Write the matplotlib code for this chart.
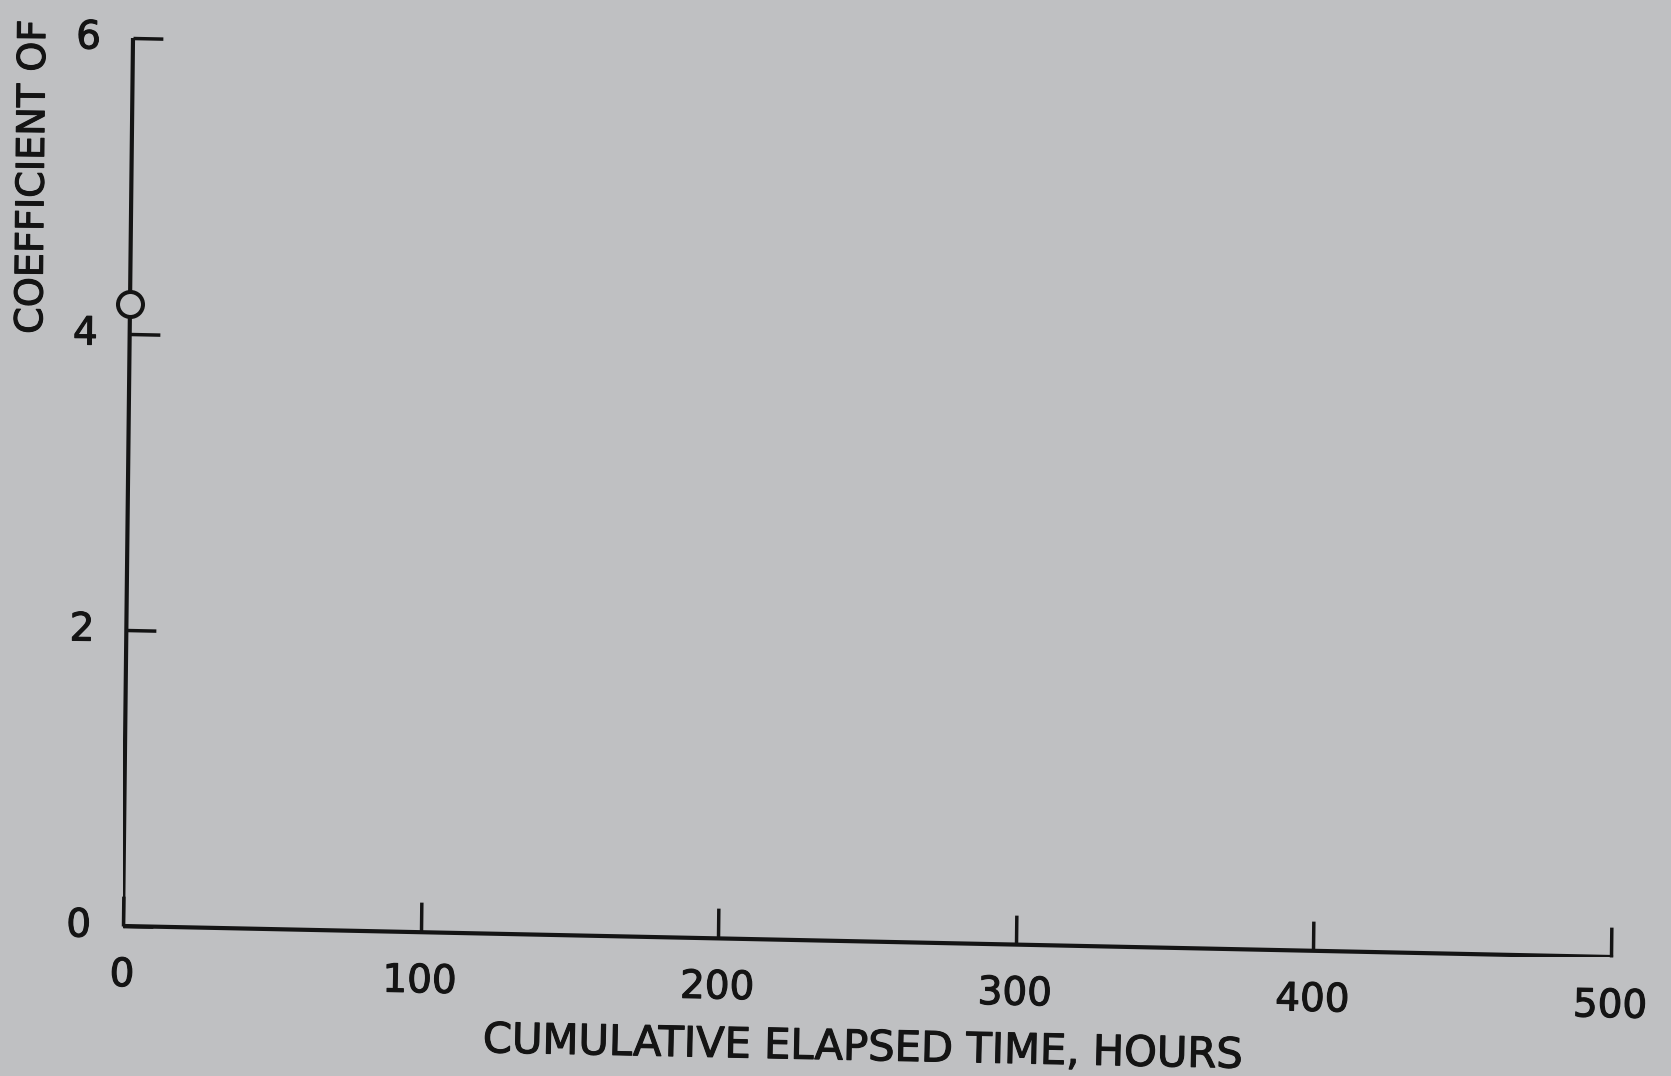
import numpy as np
import matplotlib
matplotlib.use("Agg")
import matplotlib.pyplot as plt
import matplotlib.patheffects as pe
from matplotlib.transforms import Affine2D
import mpl_toolkits.axisartist.floating_axes as floating_axes
from mpl_toolkits.axisartist.grid_finder import FixedLocator, DictFormatter

# ---- data -------------------------------------------------------------
elapsed_hours = [0]
friction_coeff = [4.2]

x_ticks = [0, 100, 200, 300, 400, 500]
x_tick_labels = ["0", "100", "200", "300", "400", "500"]
y_ticks = [0, 2, 4, 6]
y_tick_labels = ["0", "2", "4", "6"]

x_title = "CUMULATIVE ELAPSED TIME, HOURS"
y_title = "COEFFICIENT OF"

# ---- style ------------------------------------------------------------
W, H, DPI = 1671, 1076, 100
BG = "#bfc0c2"
INK = "#141414"
plt.rcParams["font.family"] = ["DejaVu Sans"]
# slightly heavier lettering
HEAVY = [pe.withStroke(linewidth=0.8, foreground=INK)]

fig = plt.figure(figsize=(W / DPI, H / DPI), dpi=DPI, facecolor=BG)

# The plate is slightly skewed on the page: build the data -> page-pixel
# mapping (y upward) from the origin and the two unit directions.
origin = (123.0, H - 926.0)
per_hour = ((1611.0 - 123.0) / 500.0, (926.0 - 957.0) / 500.0)
per_unit = ((133.0 - 123.0) / 6.0, (926.0 - 38.0) / 6.0)
tr = Affine2D(np.array([[per_hour[0], per_unit[0], origin[0]],
                        [per_hour[1], per_unit[1], origin[1]],
                        [0.0, 0.0, 1.0]]))

xmin_d, xmax_d = min(x_ticks), max(x_ticks)
ymin_d, ymax_d = min(y_ticks), max(y_ticks)

gh = floating_axes.GridHelperCurveLinear(
    tr,
    extremes=(xmin_d, xmax_d, ymin_d, ymax_d),
    grid_locator1=FixedLocator(x_ticks),
    grid_locator2=FixedLocator(y_ticks),
    tick_formatter1=DictFormatter(dict(zip(x_ticks, x_tick_labels))),
    tick_formatter2=DictFormatter(dict(zip(y_ticks, y_tick_labels))),
)

corners = tr.transform([[xmin_d, ymin_d], [xmax_d, ymin_d],
                        [xmin_d, ymax_d], [xmax_d, ymax_d]])
px0, py0 = corners.min(axis=0)
px1, py1 = corners.max(axis=0)

ax = fig.add_axes([px0 / W, py0 / H, (px1 - px0) / W, (py1 - py0) / H],
                  axes_class=floating_axes.FloatingAxes, grid_helper=gh)
ax.set_aspect("auto")
ax.set_xlim(px0, px1)
ax.set_ylim(py0, py1)
ax.patch.set_facecolor(BG)

ax.axis["top"].set_visible(False)
ax.axis["right"].set_visible(False)

for side, pad in (("bottom", 22), ("left", 23)):
    a = ax.axis[side]
    a.line.set_linewidth(3.0)
    a.line.set_color(INK)
    a.major_ticks.set_tick_out(False)
    a.major_ticks.set_ticksize(21.5)
    a.major_ticks.set_markeredgewidth(2.5)
    a.major_ticks.set_markeredgecolor(INK)
    a.minor_ticks.set_visible(False)
    a.major_ticklabels.set_fontsize(28)
    a.major_ticklabels.set_color(INK)
    a.major_ticklabels.set_pad(pad)
    a.major_ticklabels.set_path_effects(HEAVY)

aux = ax.get_aux_axes(tr)
aux.plot(elapsed_hours, friction_coeff, linestyle="none", marker="o",
         markersize=18, markerfacecolor=BG, markeredgecolor=INK,
         markeredgewidth=2.9, clip_on=False, zorder=10)

# axis titles
fig.text(863 / W, 1 - 1060 / H, x_title, fontsize=30, color=INK,
         ha="center", va="baseline", rotation=-1.18, rotation_mode="anchor",
         path_effects=HEAVY)
fig.text(42 / W, 1 - 334 / H, y_title, fontsize=27.5, color=INK,
         ha="left", va="baseline", rotation=89.4, rotation_mode="anchor",
         path_effects=HEAVY)

fig.savefig("out.png", dpi=DPI, facecolor=BG)
